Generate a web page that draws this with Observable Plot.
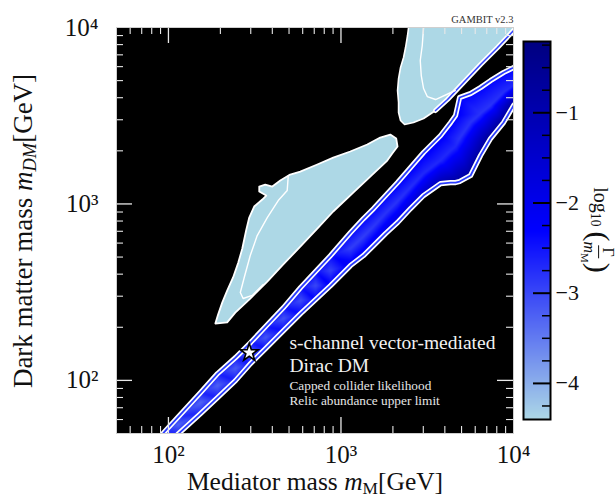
<!DOCTYPE html>
<html><head><meta charset="utf-8">
<script src="https://cdn.jsdelivr.net/npm/d3@7"></script>
<script src="https://cdn.jsdelivr.net/npm/@observablehq/plot@0.6"></script>
<style>
body{margin:0;background:#fff;}
#wrap{position:relative;width:616px;height:499px;}
#wrap svg{position:absolute;top:0;}
.lbl{position:absolute;white-space:nowrap;color:#111;font-family:"Liberation Serif",serif;line-height:0.9;}
.lbl sub{font-size:0.68em;vertical-align:-0.25em;line-height:0;}
.frac{display:inline-flex;flex-direction:column;align-items:center;font-size:0.8em;line-height:1.1;vertical-align:middle;}
.frac .num{border-bottom:1px solid #111;padding:0 2px;}
.par{font-size:1.5em;vertical-align:middle;font-weight:300;}
</style></head><body><div id="wrap"></div>
<script>
// ---------- data (GeV, log10 of Gamma/m_M) ----------
// resonance band: stations along mediator mass, edges and centre of the allowed band
const bandM     = [78.7, 96.2, 114.4, 153.5, 192.6, 244.8, 299.2, 365.6, 464.5, 583.4, 712.4, 870.1, 1136, 1351, 1545, 1813, 2128, 2531, 3011, 3779, 4318, 4616, 4869, 5640, 6444, 7366, 8760, 10010, 10990];
const bandUpper = [41.6, 51.9, 62.4, 85.3, 109.3, 134.7, 163.8, 201.8, 258.6, 335.8, 413.8, 510.0, 688.4, 826.4, 941.7, 1116, 1322, 1608, 1956, 2442, 2893, 3170, 4010, 4225, 4570, 5006, 5558, 5933, 6333];
const bandMid   = [38.5, 46.8, 56.2, 74.8, 93.4, 116.7, 143.8, 174.8, 224.0, 283.5, 344.6, 419.2, 558.7, 653.4, 744.5, 882.3, 1032, 1239, 1487, 1762, 2008, 2115, 2348, 2893, 3254, 3612, 4280, 4691, 5006];
const bandLower = [35.1, 42.1, 49.9, 64.8, 79.9, 99.7, 124.5, 151.5, 191.6, 239.2, 287.1, 344.6, 447.5, 510.0, 581.0, 679.5, 784.6, 941.7, 1116, 1305, 1322, 1322, 1340, 1449, 1881, 2348, 2893, 3612, 4010];
const gammaUpper = [-2.7,-2.7,-2.7,-2.65,-2.6,-2.6,-2.55,-2.5,-2.5,-2.45,-2.4,-2.4,-2.35,-2.3,-2.3,-2.3,-2.25,-2.2,-2.2,-2.2,-2.2,-2.2,-2.3,-2.3,-2.3,-2.3,-2.3,-2.3,-2.3];
const gammaMid   = [-3.3,-3.3,-3.3,-3.3,-3.25,-3.2,-3.2,-3.15,-3.1,-3.05,-3.0,-2.95,-2.9,-2.9,-2.85,-2.8,-2.8,-2.75,-2.7,-2.7,-2.7,-2.7,-2.8,-2.8,-2.8,-2.8,-2.75,-2.7,-2.7];
const gammaLower = [-2.7,-2.7,-2.7,-2.65,-2.6,-2.55,-2.5,-2.45,-2.4,-2.35,-2.3,-2.2,-2.1,-2.0,-1.9,-1.8,-1.7,-1.5,-1.3,-1.0,-0.8,-0.7,-0.7,-0.6,-0.6,-0.5,-0.5,-0.5,-0.5];

// upper light-blue region (outline + inner contour)
const upperRegionM  = [2465, 2465, 2432, 2368, 2306, 2215, 2157, 2128, 2157, 2157, 2215, 2337, 2634, 3011, 3534, 4148, 5134, 6444, 8085, 10010, 11290, 11290];
const upperRegionDM = [11700, 10000, 9009, 7702, 6759, 5933, 5138, 4395, 3756, 3297, 2970, 2819, 2893, 3049, 3384, 3907, 4878, 6169, 7702, 9616, 10810, 11700];
const upperInnerM   = [3011, 3011, 2959, 2881, 2920, 3011, 3164, 3534, 4598];
const upperInnerDM  = [10960, 10000, 7907, 6501, 5344, 4511, 4062, 3907, 4395];

// middle light-blue region (outline + inner contour)
const middleRegionM  = [187, 194, 205, 219, 237, 254, 268, 282, 294, 314, 350, 369, 336, 336, 364, 400, 445, 508, 581, 729, 902, 1132, 1420, 1689, 1931, 2091, 2128, 1983, 1855, 1478, 1178, 902, 729, 581, 463, 374, 298, 244, 219];
const middleRegionDM = [210, 236, 276, 323, 383, 465, 559, 707, 837, 967, 1059, 1116, 1176, 1255, 1288, 1255, 1357, 1468, 1526, 1673, 1832, 1982, 2171, 2379, 2474, 2348, 2115, 1931, 1762, 1430, 1160, 906, 725, 573, 454, 363, 291, 242, 213];
const middleInnerM   = [495, 488, 433, 374, 327, 298, 275, 261, 271, 306, 354];
const middleInnerDM  = [1449, 1191, 1045, 837, 662, 510, 383, 315, 291, 303, 349];

const regionGamma = -4.4;           // light-blue regions sit at the bottom of the colour bar
const bestFit = [{m: 294, dm: 143.6}];

// axes
const tickLabels  = [100, 1000, 10000];
const majorTicks  = [100, 1000];
const minorTicks  = [60,70,80,90,200,300,400,500,600,700,800,900,2000,3000,4000,5000,6000,7000,8000,9000];
const cbDomain    = [-4.4, -0.21];
const cbMajor     = [-4, -3, -2, -1];
const cbMinor     = [-4.25,-3.75,-3.5,-3.25,-2.75,-2.5,-2.25,-1.75,-1.5,-1.25,-0.75,-0.5,-0.25];

// ---------- derived tables ----------
const samples = bandM.flatMap((m, i) => [
  {m, dm: bandUpper[i], g: gammaUpper[i]},
  {m, dm: bandMid[i],   g: gammaMid[i]},
  {m, dm: bandLower[i], g: gammaLower[i]}
]);
const upperEdge = bandM.map((m, i) => ({m, dm: bandUpper[i]}));
const lowerEdge = bandM.map((m, i) => ({m, dm: bandLower[i]}));
const outline = [...upperEdge, ...lowerEdge.slice().reverse()];
const maskTop = [...upperEdge, {m: 1e6, dm: bandUpper.at(-1)}, {m: 1e6, dm: 1e6}, {m: 1, dm: 1e6}, {m: 1, dm: bandUpper[0]}];
const maskBot = [...lowerEdge, {m: 1e6, dm: bandLower.at(-1)}, {m: 1e6, dm: 1}, {m: 1, dm: 1}, {m: 1, dm: bandLower[0]}];
const toRows = (M, D) => M.map((m, i) => ({m, dm: D[i], g: regionGamma}));
const upperRegion = toRows(upperRegionM, upperRegionDM);
const upperStripe = upperRegion.slice(14, 21);
const middleRegion = toRows(middleRegionM, middleRegionDM);
const upperInner = toRows(upperInnerM, upperInnerDM);
const middleInner = toRows(middleInnerM, middleInnerDM);

const color = {type: "linear", domain: [-4.4, -2.305, -0.21], range: ["#add8e6", "#0000ff", "#000080"], interpolate: "rgb", clamp: true};
const W = 616, H = 499, ML = 116, MR = 103, MT = 27, MB = 66;
const FW = W - ML - MR, FH = H - MT - MB;
const sup = {2: "²", 3: "³", 4: "⁴"};
const fmt = d => "10" + sup[Math.round(Math.log10(d))];
const XY = {x: "m", y: "dm"};
const font = "Liberation Serif";
const txt = {frameAnchor: "bottom-left", dx: 173, textAnchor: "start", fontFamily: font};

const main = Plot.plot({
  width: W, height: H, marginLeft: ML, marginRight: MR, marginTop: MT, marginBottom: MB,
  x: {type: "log", domain: [50, 1e4], label: null},
  y: {type: "log", domain: [50, 1e4], label: null},
  color,
  style: {fontFamily: font, background: "transparent", color: "#111", overflow: "visible"},
  marks: [
    Plot.frame({fill: "black"}),
    Plot.raster(samples, {...XY, fill: "g", interpolate: "barycentric"}),
    Plot.line(maskTop, {...XY, fill: "black", stroke: "none", curve: "linear-closed", clip: true}),
    Plot.line(maskBot, {...XY, fill: "black", stroke: "none", curve: "linear-closed", clip: true}),
    Plot.line(outline, {...XY, stroke: "white", strokeWidth: 5.2, curve: "linear-closed", clip: true}),
    Plot.line(outline, {...XY, stroke: "#2a3cff", strokeWidth: 1.8, curve: "linear-closed", clip: true}),
    Plot.line(upperRegion, {...XY, fill: "g", stroke: "white", strokeWidth: 1.6, curve: "linear-closed", clip: true}),
    Plot.line(upperStripe, {...XY, stroke: "white", strokeWidth: 5, clip: true}),
    Plot.line(upperStripe, {...XY, stroke: "#3344ff", strokeWidth: 1.6, clip: true}),
    Plot.line(middleRegion, {...XY, fill: "g", stroke: "white", strokeWidth: 1.8, curve: "linear-closed", clip: true}),
    Plot.line(upperInner, {...XY, stroke: "white", strokeWidth: 1.4, clip: true}),
    Plot.line(middleInner, {...XY, stroke: "white", strokeWidth: 1.4, clip: true}),
    Plot.dot(bestFit, {...XY, symbol: "star", r: 5.6, fill: "white", stroke: "black", strokeWidth: 1.6}),
    Plot.text(["s-channel vector-mediated"], {...txt, dy: -85, fill: "#f2f2f2", fontSize: 19.5}),
    Plot.text(["Dirac DM"], {...txt, dy: -62, fill: "#f2f2f2", fontSize: 19.5}),
    Plot.text(["Capped collider likelihood"], {...txt, dy: -44, fill: "#e6e6e6", fontSize: 13.3}),
    Plot.text(["Relic abundance upper limit"], {...txt, dy: -29, fill: "#e6e6e6", fontSize: 13.3}),
    Plot.text(["GAMBIT v2.3"], {frameAnchor: "top-right", textAnchor: "end", lineAnchor: "bottom", dy: -5, fontSize: 10.5, fill: "#333", fontFamily: font}),
    // inward ticks on all four sides
    Plot.tickX(majorTicks, {x: d => d, stroke: "#e8e8e8", strokeWidth: 1.3, insetTop: FH - 16}),
    Plot.tickX(majorTicks, {x: d => d, stroke: "#e8e8e8", strokeWidth: 1.3, insetBottom: FH - 16}),
    Plot.tickX(minorTicks, {x: d => d, stroke: "#e8e8e8", strokeWidth: 1.1, insetTop: FH - 7}),
    Plot.tickX(minorTicks, {x: d => d, stroke: "#e8e8e8", strokeWidth: 1.1, insetBottom: FH - 7}),
    Plot.tickY(majorTicks, {y: d => d, stroke: "#e8e8e8", strokeWidth: 1.3, insetRight: FW - 16}),
    Plot.tickY(majorTicks, {y: d => d, stroke: "#e8e8e8", strokeWidth: 1.3, insetLeft: FW - 16}),
    Plot.tickY(minorTicks, {y: d => d, stroke: "#e8e8e8", strokeWidth: 1.1, insetRight: FW - 7}),
    Plot.tickY(minorTicks, {y: d => d, stroke: "#e8e8e8", strokeWidth: 1.1, insetLeft: FW - 7}),
    Plot.frame({stroke: "#cfcfcf", strokeWidth: 1}),
    Plot.axisX(tickLabels, {anchor: "bottom", tickSize: 0, tickPadding: 12, tickFormat: fmt, fontSize: 25, fill: "#111", fontFamily: font}),
    Plot.axisY(tickLabels, {anchor: "left", tickSize: 0, tickPadding: 18, tickFormat: fmt, fontSize: 25, fill: "#111", fontFamily: font})
  ]
});

const cbar = Plot.plot({
  width: 96, height: 460, marginLeft: 3, marginRight: 66, marginTop: 41, marginBottom: 41,
  x: {domain: [0, 1], axis: null},
  y: {domain: cbDomain, label: null},
  color,
  style: {fontFamily: font, background: "transparent", color: "#111"},
  marks: [
    Plot.raster({fill: (x, y) => y, x1: 0, x2: 1, y1: cbDomain[0], y2: cbDomain[1]}),
    Plot.tickY(cbMinor, {y: d => d, stroke: "black", strokeWidth: 1.5, insetLeft: 19}),
    Plot.tickY(cbMajor, {y: d => d, stroke: "black", strokeWidth: 2, insetLeft: 10}),
    Plot.frame({stroke: "black", strokeWidth: 2}),
    Plot.axisY(cbMajor, {anchor: "right", tickSize: 0, tickPadding: 5, tickFormat: d => "\u2212" + Math.abs(d), fontSize: 22, fill: "#111", fontFamily: font})
  ]
});

const wrap = document.getElementById("wrap");
main.style.left = "0px";
cbar.style.left = "520px";
wrap.appendChild(main);
wrap.appendChild(cbar);

function label(html, x, y, rot, size) {
  const d = document.createElement("div");
  d.className = "lbl";
  d.innerHTML = html;
  d.style.left = x + "px";
  d.style.top = y + "px";
  d.style.fontSize = size + "px";
  d.style.transform = `translate(-50%,-50%) rotate(${rot}deg)`;
  wrap.appendChild(d);
}
label('Mediator mass <i>m</i><sub>M</sub>[GeV]', 315, 482, 0, 25.5);
label('Dark matter mass <i>m</i><sub><i>DM</i></sub>[GeV]', 23, 231, -90, 27);
label('log<sub>10</sub> <span class="par">(</span><span class="frac"><span class="num">Γ</span><span><i>m</i><sub>M</sub></span></span><span class="par">)</span>', 599, 230, 90, 20);
</script>
</body></html>
